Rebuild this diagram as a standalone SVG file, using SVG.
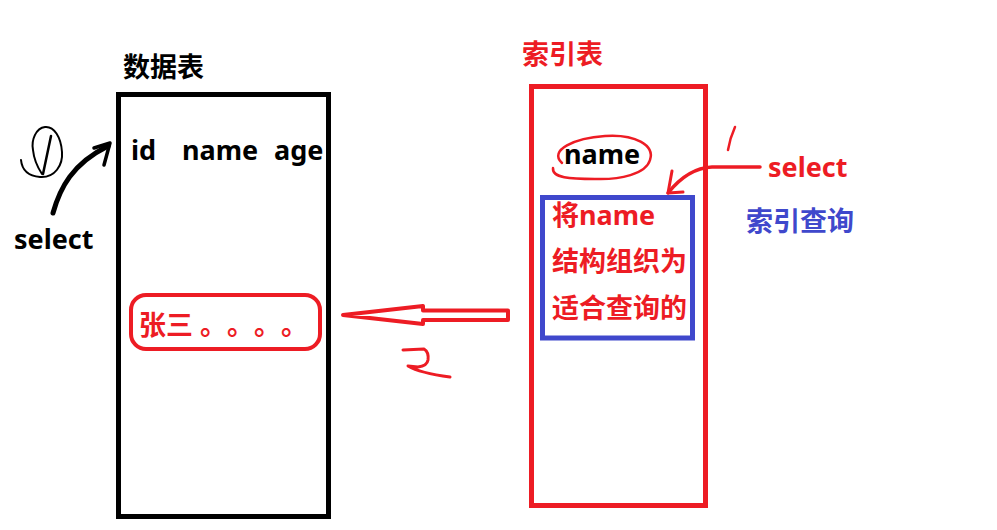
<svg xmlns="http://www.w3.org/2000/svg" width="997" height="530" viewBox="0 0 997 530">
<style>
text{font-family:"Noto Sans","Noto Sans CJK SC",sans-serif;font-weight:bold;font-size:27px}
.cjk{font-family:"Noto Sans CJK SC",sans-serif}
.k{fill:#000}.r{fill:#ed1c24}.b{fill:#3f48cc}
.sr{fill:none;stroke:#ed1c24;stroke-linecap:round;stroke-linejoin:round}
.sk{fill:none;stroke:#000;stroke-linecap:round;stroke-linejoin:round}
</style>
<rect width="997" height="530" fill="#fff"/>
<g id="data-table">
<text class="k" x="123" y="77">数据表</text>
<rect x="118.5" y="94.5" width="210" height="422" fill="none" stroke="#000" stroke-width="5"/>
<text class="k" y="160"><tspan x="131">id</tspan><tspan x="182">name</tspan><tspan x="274">age</tspan></text>
</g>
<g id="row-zhangsan">
<rect x="131" y="295" width="189" height="54" rx="15" fill="none" stroke="#ed1c24" stroke-width="4"/>
<text class="r cjk" y="335"><tspan x="139">张三</tspan><tspan x="200">。</tspan><tspan x="227">。</tspan><tspan x="254">。</tspan><tspan x="281">。</tspan></text>
</g>
<g id="index-table">
<text class="r" x="522" y="64">索引表</text>
<rect x="531.5" y="86.5" width="174" height="419" fill="none" stroke="#ed1c24" stroke-width="5"/>
</g>
<g id="name-key">
<path class="sr" stroke-width="2.5" d="M562,163 C548,150 575,138 605,136 C635,134 655,145 650,160 C646,174 620,180 595,179 C570,179 552,178 553,168"/>
<text class="k" x="564" y="164">name</text>
</g>
<g id="index-structure">
<rect x="542.5" y="197.5" width="150" height="140.5" fill="none" stroke="#3f48cc" stroke-width="5"/>
<text class="r" x="552" y="225">将name</text>
<text class="r" x="552" y="271">结构组织为</text>
<text class="r" x="552" y="318">适合查询的</text>
</g>
<g id="select-left">
<text class="k" x="14" y="249">select</text>
</g>
<g id="select-right">
<text class="r" x="768" y="177">select</text>
</g>
<g id="index-query">
<text class="b" x="746" y="231">索引查询</text>
</g>
<g id="marks">
<path class="sk" stroke-width="2" d="M21,160 C22,170 28,176 40,177 C55,178 63,165 62,152 C61,137 54,126 45,127 C36,128 31,140 33,150 C34,160 38,168 42,174"/>
<path class="sk" stroke-width="2.5" d="M51,136 L43,174"/>
<path class="sr" stroke-width="3" d="M403,350 L424,349 Q429,352 428,360 Q427,366 418,367 L408,366 Q420,373 450,377"/>
<path class="sr" stroke-width="2.5" d="M735,127 Q730,138 728,150"/>
</g>
<g id="connectors">
<path class="sk" stroke-width="5" d="M53,213 C60,188 72,164 108,146"/>
<path class="sk" stroke-width="3.5" d="M94,148 L110,143 L104,165"/>
<polygon points="343,315 423,306 423,310.5 508,310.5 508,320 423,320 423,324" fill="none" stroke="#ed1c24" stroke-width="4" stroke-linejoin="round"/>
<path class="sr" stroke-width="3.5" d="M760,167 L712,167 Q688,168 668,193"/>
<path class="sr" stroke-width="3" d="M672,171 L668,193 L683,192"/>
</g>
</svg>
